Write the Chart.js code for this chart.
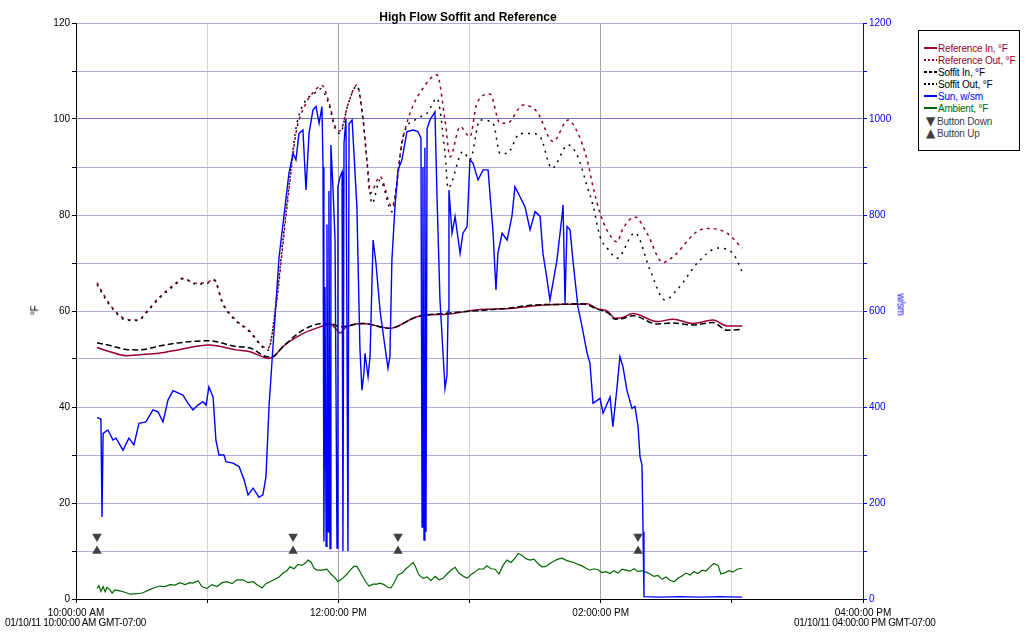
<!DOCTYPE html>
<html>
<head>
<meta charset="utf-8">
<script src="https://cdn.jsdelivr.net/npm/chart.js@4.4.1/dist/chart.umd.min.js"></script>
<style>
  body { margin: 0; background: #fff; font-family: "Liberation Sans", Arial, sans-serif; }
  #wrap { position: relative; width: 1032px; height: 635px; }
  #chart { position: absolute; left: 0; top: 0; }
  .txt { position: absolute; font-size: 10px; letter-spacing: -0.3px; color: #000; white-space: nowrap; }
  #title { left: 0; width: 936px; top: 10px; text-align: center; font-weight: bold; font-size: 12px; letter-spacing: 0; }
  #legend { position: absolute; left: 918px; top: 30px; width: 100px; height: 119px; border: 1px solid #000; background: #fff; }
  .item { position: absolute; left: 5px; height: 12px; font-size: 10px; letter-spacing: -0.2px; line-height: 12px; white-space: nowrap; }
  .item svg { vertical-align: middle; margin-right: 1px; position: relative; top: -1px; }
  .tri { display: inline-block; width: 13px; text-align: center; font-size: 12px; line-height: 12px; color: #404040; font-family: "DejaVu Sans", sans-serif; letter-spacing: 0; }
</style>
</head>
<body>
<div id="wrap">
  <canvas id="chart" width="1032" height="635"></canvas>
  <div class="txt" id="title">High Flow Soffit and Reference</div>
  <div class="txt" style="left:30px; top:305px; transform: rotate(-90deg);">°F</div>
  <div class="txt" style="left:890px; top:299px; transform: rotate(90deg); color:#0000ff;">w/sm</div>
  <div class="txt" style="left:5px; top:617px;">01/10/11 10:00:00 AM GMT-07:00</div>
  <div class="txt" style="left:794px; top:617px;">01/10/11 04:00:00 PM GMT-07:00</div>
  <div id="legend"></div>
</div>
<script>
// x values are minutes after 10:00:00 AM
const xTickLabels = ['10:00:00 AM', '', '12:00:00 PM', '', '02:00:00 PM', '', '04:00:00 PM'];

const refIn = [[9.6,52.4],[15.6,51.5],[22.9,50.7],[29.3,50.9],[38.0,51.2],[47.6,52.0],[60.8,52.9],[73.2,51.9],[79.6,51.5],[85.1,50.5],[88.3,50.1],[91.5,51.0],[94.7,52.6],[103.8,55.3],[113.0,56.9],[116.2,57.3],[119.4,56.0],[120.8,55.4],[123.1,56.5],[131.3,57.4],[143.6,56.4],[156.0,58.8],[171.1,59.4],[184.8,60.3],[198.5,60.5],[207.7,61.0],[222.8,61.4],[229.2,61.4],[233.8,61.5],[238.3,60.5],[243.3,59.9],[246.6,58.5],[249.8,58.6],[254.8,59.5],[265.8,57.8],[273.1,58.3],[282.2,57.4],[291.4,58.1],[297.8,56.9],[304.7,56.9]];

const refOut = [[9.6,65.9],[15.1,61.6],[22.9,58.3],[28.4,58.1],[32.9,60.2],[38.0,62.8],[45.7,65.8],[48.9,66.7],[54.9,65.8],[59.5,65.9],[63.1,66.6],[67.2,61.6],[73.2,58.1],[79.1,56.0],[85.5,52.6],[87.8,52.2],[91.5,60.9],[94.7,74.1],[97.4,85.2],[100.6,97.0],[105.2,103.3],[108.4,105.5],[112.5,107.0],[115.7,103.5],[118.5,98.5],[120.8,97.5],[124.4,103.0],[128.5,107.1],[131.3,100.0],[133.1,91.0],[134.5,84.5],[139.1,88.0],[144.5,81.7],[149.1,95.0],[152.8,101.2],[158.7,106.4],[165.1,109.2],[168.8,99.8],[171.1,92.1],[175.7,98.4],[180.2,96.3],[183.4,103.3],[189.4,105.2],[194.0,99.1],[197.2,99.1],[204.5,102.9],[210.9,101.5],[218.2,95.3],[225.1,99.8],[229.6,97.0],[233.8,91.5],[236.5,85.9],[239.7,80.4],[243.3,76.5],[247.5,74.4],[250.2,77.2],[255.7,79.6],[261.2,76.2],[268.5,70.1],[273.1,71.3],[285.4,76.9],[290.0,77.2],[297.8,76.2],[304.7,73.1]];

const soffitIn = [[9.6,53.4],[15.6,52.8],[22.9,52.0],[29.3,51.9],[38.0,52.7],[47.6,53.4],[60.8,53.8],[73.2,52.6],[79.6,52.3],[86.9,50.5],[89.7,50.4],[94.7,52.6],[103.8,56.0],[113.0,57.4],[116.2,57.4],[120.8,56.7],[131.3,57.4],[143.6,56.4],[156.0,58.8],[171.1,59.6],[184.8,60.1],[198.5,60.6],[207.7,61.2],[222.8,61.4],[229.2,61.5],[233.8,61.3],[238.3,60.4],[243.3,59.6],[246.6,58.3],[249.8,58.4],[254.8,59.0],[265.8,57.3],[273.1,57.5],[282.2,57.1],[291.4,57.6],[297.8,56.0],[304.7,56.2]];

const soffitOut = [[9.6,65.5],[15.1,61.4],[22.9,58.1],[28.4,58.0],[32.9,60.0],[38.0,62.6],[45.7,65.6],[48.9,66.9],[54.9,65.6],[59.5,65.7],[63.1,66.4],[67.2,61.4],[73.2,57.9],[79.1,55.8],[85.5,52.4],[87.8,51.8],[91.5,61.5],[94.7,75.0],[97.4,86.0],[100.6,98.0],[105.2,104.0],[108.4,105.0],[111.6,106.3],[115.7,103.0],[118.5,98.0],[120.8,97.0],[124.4,103.0],[128.5,106.9],[131.3,99.8],[133.1,91.5],[135.4,82.4],[139.1,87.3],[144.5,80.7],[149.6,96.3],[156.0,100.1],[160.6,101.2],[165.1,104.3],[168.8,92.8],[170.2,85.6],[177.0,93.2],[180.2,91.5],[184.8,99.8],[190.8,99.1],[194.0,92.8],[197.2,92.8],[203.1,97.0],[207.7,97.0],[212.3,96.3],[217.7,89.7],[225.1,94.6],[229.6,92.1],[233.8,86.0],[236.5,82.0],[239.7,75.5],[243.3,72.9],[247.5,71.0],[255.7,76.3],[262.6,68.5],[269.4,62.3],[274.9,64.4],[285.4,70.6],[293.7,73.1],[300.5,72.0],[304.7,68.2]];

const sun = [[9.6,378],[11.0,376],[11.4,372],[11.9,171],[12.4,345],[14.6,352],[16.9,331],[18.3,335],[21.5,310],[24.2,335],[26.5,321],[28.8,366],[32.0,369],[35.2,394],[37.5,390],[39.8,369],[42.1,415],[44.4,434],[48.9,425],[51.2,408],[53.5,394],[55.8,404],[58.1,411],[59.5,404],[60.8,442],[62.7,421],[64.0,331],[65.4,300],[67.7,300],[68.6,286],[71.8,283],[74.6,276],[76.9,248],[78.7,217],[81.0,231],[83.7,212],[85.5,217],[86.9,255],[88.3,401],[89.7,498],[92.9,713],[95.1,797],[97.4,887],[99.3,928],[100.6,915],[102.0,970],[103.8,977],[105.2,852],[106.6,970],[108.4,1019],[109.8,1026],[111.2,991],[112.5,1026],[113.0,900],[113.4,120],[113.9,650],[114.4,110],[114.8,780],[115.3,140],[115.7,850],[116.2,105],[116.6,946],[117.6,850],[118.5,748],[119.4,106],[119.8,859],[120.8,880],[121.7,890],[122.1,100],[122.6,950],[123.5,1001],[124.4,100],[124.9,990],[126.3,998],[128.5,817],[129.0,706],[129.9,520],[130.8,435],[131.7,470],[132.2,512],[133.6,463],[134.5,505],[135.9,748],[137.2,700],[139.1,600],[140.9,540],[142.7,481],[143.6,505],[144.5,706],[145.9,817],[147.3,894],[149.1,915],[151.4,974],[154.2,977],[156.4,974],[157.8,960],[158.3,150],[158.7,900],[159.2,123],[159.6,940],[160.1,140],[160.6,980],[161.9,998],[164.2,1015],[165.1,845],[166.5,623],[168.8,439],[169.7,467],[170.2,600],[170.6,852],[172.0,762],[173.4,797],[175.7,720],[177.0,762],[178.9,776],[180.2,915],[181.6,908],[183.9,873],[186.2,894],[188.5,894],[190.8,762],[192.1,644],[193.0,720],[194.9,762],[197.2,748],[199.4,797],[200.8,859],[203.1,838],[205.4,817],[207.7,769],[210.0,807],[212.3,797],[213.6,720],[215.5,665],[216.8,623],[220.0,706],[222.3,797],[222.8,821],[223.7,616],[224.6,776],[226.0,769],[227.3,706],[229.6,609],[231.5,567],[233.8,512],[235.1,491],[236.5,408],[239.7,418],[241.1,387],[244.3,421],[245.6,359],[247.5,442],[248.8,505],[250.2,484],[252.0,435],[254.3,397],[255.7,401],[257.1,359],[258.0,296],[258.9,279],[259.4,140],[259.8,5],[267.1,4],[276.3,5],[285.4,4],[294.6,5],[304.7,4]];

const ambient = [[9.6,2.2],[10.5,2.8],[11.4,1.6],[12.4,2.6],[13.3,1.5],[14.2,2.4],[15.6,1.9],[16.5,1.2],[17.8,1.9],[20.1,1.7],[22.4,1.4],[24.7,1.0],[27.9,1.1],[30.6,1.3],[33.9,2.0],[36.1,2.4],[38.4,2.7],[40.7,2.6],[43.0,3.0],[45.3,2.9],[47.6,3.4],[49.9,3.0],[52.1,3.4],[53.5,3.3],[55.8,3.8],[57.6,2.6],[59.9,2.2],[62.2,3.0],[64.5,2.6],[66.8,3.4],[69.1,3.6],[71.4,3.2],[73.6,4.0],[76.4,4.0],[78.7,3.4],[81.0,3.6],[83.3,2.8],[85.1,2.3],[86.9,3.2],[88.7,3.6],[90.6,4.0],[92.9,4.6],[94.7,5.4],[96.5,5.9],[97.9,6.7],[99.7,6.3],[101.6,7.2],[103.4,7.0],[105.2,7.6],[106.1,8.1],[107.5,7.7],[108.9,6.4],[110.2,6.0],[112.5,6.0],[114.8,6.2],[116.6,5.2],[118.5,4.4],[119.8,3.6],[121.7,4.2],[124.0,5.2],[125.8,6.2],[127.2,6.8],[128.5,6.8],[130.4,5.3],[132.2,3.8],[134.0,2.7],[135.9,3.1],[137.7,3.1],[139.1,3.3],[140.9,3.0],[142.7,2.4],[144.1,2.3],[145.5,3.4],[147.3,5.0],[149.1,5.4],[151.0,6.3],[152.8,7.0],[154.2,7.6],[155.5,6.5],[156.9,5.0],[158.7,4.3],[160.6,4.6],[162.4,3.8],[164.2,4.7],[166.1,4.0],[167.9,4.3],[169.7,5.2],[171.5,6.0],[173.4,6.6],[175.2,5.4],[177.0,4.8],[178.9,4.3],[180.7,5.1],[182.5,5.6],[184.3,6.3],[186.2,6.2],[188.0,6.9],[189.8,6.3],[191.7,6.2],[193.5,5.2],[195.3,7.0],[197.2,8.1],[199.0,7.6],[200.8,8.5],[202.2,9.5],[204.0,9.1],[205.8,8.4],[207.7,8.1],[209.5,8.3],[211.3,7.4],[213.2,6.7],[215.0,6.8],[216.8,7.4],[218.7,7.9],[220.5,8.3],[222.3,8.5],[224.1,8.1],[226.0,7.8],[227.8,7.6],[229.6,7.2],[231.5,6.9],[233.3,6.4],[235.1,6.0],[237.0,6.3],[238.8,6.1],[240.6,5.5],[242.4,5.7],[244.3,5.3],[246.1,5.9],[247.9,5.4],[249.8,6.2],[251.6,6.0],[253.4,5.8],[255.3,6.3],[257.1,5.7],[258.9,5.9],[260.7,5.6],[262.6,5.2],[264.4,4.7],[266.2,4.9],[268.1,4.1],[269.9,4.6],[271.7,3.9],[273.6,3.6],[275.4,4.3],[277.2,4.8],[279.0,5.4],[280.9,5.0],[282.7,5.7],[284.5,5.3],[286.4,6.0],[288.2,5.8],[290.0,6.7],[291.8,7.4],[293.7,7.0],[295.0,5.2],[296.9,5.5],[298.7,5.9],[300.5,5.6],[302.4,6.2],[304.7,6.4]];

const buttonTimes = [9.6, 99.3, 147.3, 257.1];
const buttonDown = [13, 13, 13, 13];
const buttonUp = [10, 10, 10, 10];

const MAROON = '#990033';
const BLUE = '#0000ff';
const GREEN = '#006600';
const GREY = '#404040';
const FONT = { family: '"Liberation Sans", Arial', size: 10 };

const pts = (arr) => arr.map(([x, y]) => ({ x, y }));
const btn = (vals) => buttonTimes.map((t, i) => ({ x: t, y: vals[i] }));

const legendItems = [
  { label: 'Reference In, °F', color: MAROON, dash: '' },
  { label: 'Reference Out, °F', color: MAROON, dash: '2,2' },
  { label: 'Soffit In, °F', color: '#000', dash: '3,2' },
  { label: 'Soffit Out, °F', color: '#000', dash: '2,2' },
  { label: 'Sun, w/sm', color: BLUE, dash: '' },
  { label: 'Ambient, °F', color: GREEN, dash: '' },
  { label: 'Button Down', tri: '▼' },
  { label: 'Button Up', tri: '▲' }
];

const legend = document.getElementById('legend');
legendItems.forEach((it, i) => {
  const row = document.createElement('div');
  row.className = 'item';
  row.style.top = (12 + i * 12) + 'px';
  if (it.tri) {
    row.style.color = GREY;
    row.innerHTML = `<span class="tri">${it.tri}</span>${it.label}`;
  } else {
    row.style.color = it.color;
    row.innerHTML = `<svg width="13" height="4"><line x1="0" y1="2" x2="13" y2="2" stroke="${it.color}" stroke-width="2" stroke-dasharray="${it.dash}"/></svg>${it.label}`;
  }
  legend.appendChild(row);
});

const tempLine = (label, data, color, dash, order) => ({
  label,
  data: pts(data),
  borderColor: color,
  borderWidth: 1.5,
  borderDash: dash,
  pointRadius: 0,
  cubicInterpolationMode: 'monotone',
  yAxisID: 'y',
  order
});

new Chart(document.getElementById('chart'), {
  type: 'line',
  data: {
    datasets: [
      tempLine('Reference In, °F', refIn, MAROON, [], 4),
      tempLine('Reference Out, °F', refOut, MAROON, [3, 4], 4),
      tempLine('Soffit In, °F', soffitIn, '#000', [6, 3], 3),
      tempLine('Soffit Out, °F', soffitOut, '#000', [2, 5], 3),
      {
        label: 'Sun, w/sm',
        data: pts(sun),
        borderColor: BLUE,
        borderWidth: 1.4,
        pointRadius: 0,
        yAxisID: 'y2',
        order: 1
      },
      {
        label: 'Ambient, °F',
        data: pts(ambient),
        borderColor: GREEN,
        borderWidth: 1.2,
        pointRadius: 0,
        yAxisID: 'y',
        order: 2
      },
      {
        label: 'Button Down',
        data: btn(buttonDown),
        showLine: false,
        pointStyle: 'triangle',
        rotation: 180,
        pointRadius: 5.5,
        pointBackgroundColor: GREY,
        pointBorderColor: GREY,
        pointBorderWidth: 0,
        yAxisID: 'y',
        order: 0
      },
      {
        label: 'Button Up',
        data: btn(buttonUp),
        showLine: false,
        pointStyle: 'triangle',
        pointRadius: 5.5,
        pointBackgroundColor: GREY,
        pointBorderColor: GREY,
        pointBorderWidth: 0,
        yAxisID: 'y',
        order: 0
      }
    ]
  },
  options: {
    responsive: false,
    animation: false,
    devicePixelRatio: 1,
    layout: { padding: { top: 23, left: 0, right: 0, bottom: 0 } },
    plugins: {
      legend: { display: false },
      tooltip: { enabled: false },
      title: { display: false }
    },
    scales: {
      x: {
        type: 'linear',
        min: 0,
        max: 360,
        afterFit: (s) => { s.height = 36; },
        border: { color: '#000', width: 1 },
        grid: {
          color: (c) => {
            const v = c.tick && c.tick.value;
            return (v / 60) % 2 === 0 ? '#a4a4a4' : '#d4d4d4';
          },
          tickColor: '#000',
          tickLength: 4
        },
        ticks: {
          stepSize: 60,
          autoSkip: false,
          maxRotation: 0,
          padding: 4,
          color: '#000',
          font: FONT,
          callback: (v) => xTickLabels[Math.round(v / 60)]
        }
      },
      y: {
        position: 'left',
        min: 0,
        max: 120,
        afterFit: (s) => { s.width = 76; },
        border: { color: '#000', width: 1 },
        grid: {
          color: (c) => (c.tick && c.tick.value === 100 ? '#7070c0' : '#aeaed8'),
          tickColor: '#000',
          tickLength: 4
        },
        ticks: {
          stepSize: 10,
          autoSkip: false,
          padding: 2,
          color: '#000',
          font: FONT,
          callback: (v) => (v % 20 === 0 ? v : '')
        }
      },
      y2: {
        position: 'right',
        min: 0,
        max: 1200,
        afterFit: (s) => { s.width = 169; },
        border: { color: BLUE, width: 1 },
        grid: {
          drawOnChartArea: false,
          color: BLUE,
          tickColor: BLUE,
          tickLength: 4
        },
        ticks: {
          stepSize: 100,
          autoSkip: false,
          padding: 2,
          color: BLUE,
          font: FONT,
          callback: (v) => (v % 200 === 0 ? v : '')
        }
      }
    }
  }
});
</script>
</body>
</html>
